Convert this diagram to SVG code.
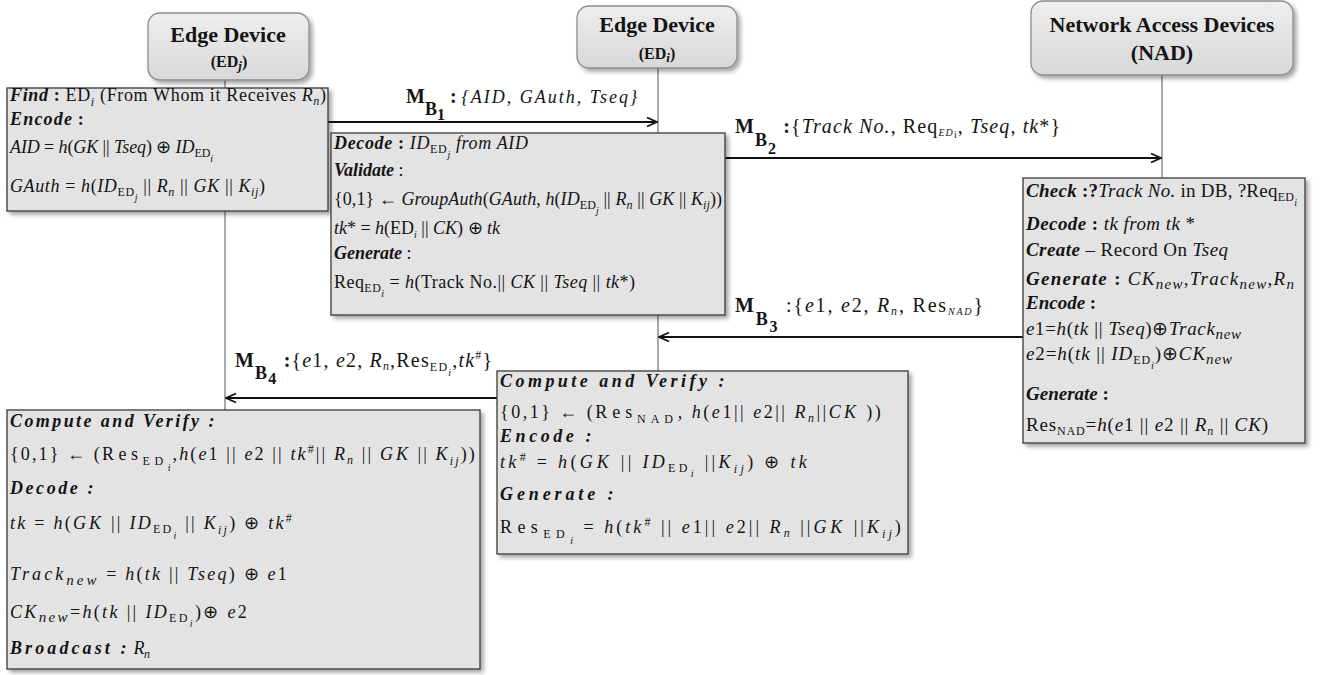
<svg xmlns="http://www.w3.org/2000/svg" width="1325" height="675" viewBox="0 0 1325 675" font-family="'Liberation Serif', 'Times New Roman', serif">
  <defs>
    <style>
      text{font-family:"Liberation Serif","Times New Roman",serif;fill:#141414}
      .hd{font-size:22px;font-weight:bold;text-anchor:middle}
      .hs{font-size:16px;font-weight:bold;text-anchor:middle}
      .bx{font-size:18px}
      .bc{font-size:19px}
      .k{font-weight:bold;font-style:italic}
      .i{font-style:italic}
      .b{font-weight:bold}
      .s{font-size:12px}
      .ss{font-size:10px}
      .sn{font-size:15px;font-style:italic}
      .sp{letter-spacing:3.6px}
      .w1{letter-spacing:1.2px}
      .w2{letter-spacing:2px}
      .lm{font-size:20px;font-weight:bold}
      .lb{font-size:18px;font-weight:bold}
      .ld{font-size:16px;font-weight:bold}
      .lt{font-size:18px}
      .lu{font-size:20px}
      .node{fill:#e3e3e3;stroke:#3a3a3a;stroke-width:1.3}
      .head{fill:url(#hg);stroke:#8c8c8c;stroke-width:1.3}
      .life{stroke:#555;stroke-width:1;fill:none}
      .msg{stroke:#111;stroke-width:2;fill:none}
    </style>
    <linearGradient id="hg" x1="0" y1="0" x2="0" y2="1">
      <stop offset="0" stop-color="#eeeeee"/>
      <stop offset="1" stop-color="#d8d8d8"/>
    </linearGradient>
    <filter id="sh" x="-5%" y="-5%" width="115%" height="125%">
      <feDropShadow dx="3" dy="3" stdDeviation="2" flood-color="#000" flood-opacity="0.35"/>
    </filter>
    <marker id="ah" viewBox="0 0 12 12" refX="11" refY="6" markerWidth="12" markerHeight="12" markerUnits="userSpaceOnUse" orient="auto">
      <path d="M1,1.5 L11,6 L1,10.5" fill="none" stroke="#111" stroke-width="1.8"/>
    </marker>
  </defs>

  <rect width="1325" height="675" fill="#ffffff"/>

  <!-- lifelines and messages -->
  <g id="connectors">
    <line class="life" x1="225" y1="80" x2="225" y2="88"/>
    <line class="life" x1="225" y1="211" x2="225" y2="410"/>
    <line class="life" x1="658" y1="68" x2="658" y2="133"/>
    <line class="life" x1="658" y1="315" x2="658" y2="371"/>
    <line class="life" x1="1162" y1="75" x2="1162" y2="178"/>

    <line class="msg" x1="328" y1="122" x2="657" y2="122" marker-end="url(#ah)"/>
    <line class="msg" x1="725" y1="158" x2="1161" y2="158" marker-end="url(#ah)"/>
    <line class="msg" x1="1023" y1="337" x2="659" y2="337" marker-end="url(#ah)"/>
    <line class="msg" x1="497" y1="398" x2="226" y2="398" marker-end="url(#ah)"/>

    <text x="406" y="103"><tspan class="lm">M</tspan><tspan class="lb" dy="12">B</tspan><tspan class="ld" dy="5">1</tspan><tspan class="lm" dy="-17"> : </tspan><tspan class="lt i w2">{AID, GAuth, Tseq}</tspan></text>
    <text x="735" y="133" textLength="325" lengthAdjust="spacing"><tspan class="lm">M</tspan><tspan class="lb" dy="13">B</tspan><tspan class="ld" dy="8">2</tspan><tspan class="lm" dy="-21"> :</tspan><tspan class="lu">{<tspan class="i">Track No.</tspan>, Req<tspan class="ss i" dy="3">ED</tspan><tspan class="ss" dy="2">i</tspan><tspan dy="-5">, </tspan><tspan class="i">Tseq</tspan>, <tspan class="i">tk</tspan>*}</tspan></text>
    <text x="735" y="312" textLength="248" lengthAdjust="spacing"><tspan class="lm">M</tspan><tspan class="lb" dy="13">B</tspan><tspan class="ld" dy="7">3</tspan><tspan class="lu" dy="-20"> :{<tspan class="i">e</tspan>1, <tspan class="i">e</tspan>2, <tspan class="i">R</tspan><tspan class="s i" dy="3">n</tspan><tspan dy="-3">, Res</tspan><tspan class="ss i" dy="3">NAD</tspan><tspan dy="-3">}</tspan></tspan></text>
    <text x="235" y="367" textLength="257" lengthAdjust="spacing"><tspan class="lm">M</tspan><tspan class="lb" dy="12">B</tspan><tspan class="ld" dy="5">4</tspan><tspan class="lm" dy="-17"> :</tspan><tspan class="lu">{<tspan class="i">e</tspan>1, <tspan class="i">e</tspan>2, <tspan class="i">R</tspan><tspan class="s i" dy="3">n</tspan><tspan dy="-3">,Res</tspan><tspan class="s" dy="4">ED</tspan><tspan class="ss i" dy="5">i</tspan><tspan dy="-9">,</tspan><tspan class="i">tk</tspan><tspan class="s" dy="-8">#</tspan><tspan dy="8">}</tspan></tspan></text>
  </g>

  <!-- participants -->
  <g id="edge-device-j">
    <rect class="head" x="148" y="13" width="161" height="67" rx="12" filter="url(#sh)"/>
    <text class="hd" x="228" y="42">Edge Device</text>
    <text class="hs" x="229" y="67">(ED<tspan class="i" font-size="13" dy="3">j</tspan><tspan dy="-3">)</tspan></text>
  </g>
  <g id="edge-device-i">
    <rect class="head" x="577" y="6" width="160" height="62" rx="12" filter="url(#sh)"/>
    <text class="hd" x="657" y="32">Edge Device</text>
    <text class="hs" x="657" y="59">(ED<tspan class="i" font-size="13" dy="3">i</tspan><tspan dy="-3">)</tspan></text>
  </g>
  <g id="nad">
    <rect class="head" x="1031" y="1" width="262" height="74" rx="12" filter="url(#sh)"/>
    <text class="hd" x="1162" y="32">Network Access Devices</text>
    <text class="hd" x="1162" y="60">(NAD)</text>
  </g>

  <!-- ED_j : find and encode -->
  <g id="box-edj-encode">
    <rect class="node" x="7" y="88" width="321" height="123" filter="url(#sh)"/>
    <text class="bx" x="10" y="101" textLength="316" lengthAdjust="spacing"><tspan class="k">Find</tspan><tspan class="b"> : </tspan>ED<tspan class="s i" dy="5">i</tspan><tspan dy="-5"> (From Whom it Receives </tspan><tspan class="i">R</tspan><tspan class="s i" dy="4">n</tspan><tspan dy="-4">)</tspan></text>
    <text class="bx" x="10" y="125"><tspan class="k w1">Encode</tspan><tspan class="b"> :</tspan></text>
    <text class="bx" x="10" y="153" textLength="203" lengthAdjust="spacing"><tspan class="i">AID</tspan> = <tspan class="i">h</tspan>(<tspan class="i">GK</tspan> || <tspan class="i">Tseq</tspan>) ⊕ <tspan class="i">ID</tspan><tspan class="s" dy="4">ED</tspan><tspan class="ss i" dy="5">i</tspan></text>
    <text class="bx" x="10" y="192" textLength="255" lengthAdjust="spacing"><tspan class="i">GAuth</tspan> = <tspan class="i">h</tspan>(<tspan class="i">ID</tspan><tspan class="s" dy="4">ED</tspan><tspan class="ss i" dy="5">j</tspan><tspan dy="-9"> || </tspan><tspan class="i">R</tspan><tspan class="s i" dy="4">n</tspan><tspan dy="-4"> || </tspan><tspan class="i">GK</tspan> || <tspan class="i">K</tspan><tspan class="s i" dy="4">ij</tspan><tspan dy="-4">)</tspan></text>
  </g>

  <!-- ED_i : decode, validate, generate -->
  <g id="box-edi-validate">
    <rect class="node" x="331" y="133" width="394" height="182" filter="url(#sh)"/>
    <text class="bx" x="334" y="149" textLength="194" lengthAdjust="spacing"><tspan class="k">Decode</tspan><tspan class="b"> : </tspan><tspan class="i">ID</tspan><tspan class="s" dy="4">ED</tspan><tspan class="ss i" dy="5">j</tspan><tspan class="i" dy="-9"> from AID</tspan></text>
    <text class="bx" x="334" y="176"><tspan class="k">Validate</tspan> :</text>
    <text class="bx" x="334" y="205" textLength="388" lengthAdjust="spacing">{0,1} ← <tspan class="i">GroupAuth</tspan>(<tspan class="i">GAuth</tspan>, <tspan class="i">h</tspan>(<tspan class="i">ID</tspan><tspan class="s" dy="4">ED</tspan><tspan class="ss i" dy="5">j</tspan><tspan dy="-9"> || </tspan><tspan class="i">R</tspan><tspan class="s i" dy="4">n</tspan><tspan dy="-4"> || </tspan><tspan class="i">GK</tspan> || <tspan class="i">K</tspan><tspan class="s i" dy="4">ij</tspan><tspan dy="-4">))</tspan></text>
    <text class="bx" x="334" y="234" textLength="166" lengthAdjust="spacing"><tspan class="i">tk</tspan>* = <tspan class="i">h</tspan>(ED<tspan class="ss i" dy="4">i</tspan><tspan dy="-4"> || </tspan><tspan class="i">CK</tspan>) ⊕ <tspan class="i">tk</tspan></text>
    <text class="bx" x="334" y="259"><tspan class="k">Generate</tspan> :</text>
    <text class="bx" x="334" y="288" textLength="301" lengthAdjust="spacing">Req<tspan class="s" dy="4">ED</tspan><tspan class="ss i" dy="5">i</tspan><tspan dy="-9"> = </tspan><tspan class="i">h</tspan>(Track No.|| <tspan class="i">CK</tspan> ||  <tspan class="i">Tseq</tspan> || <tspan class="i">tk</tspan>*)</text>
  </g>

  <!-- NAD : check, decode, create, generate, encode -->
  <g id="box-nad-check">
    <rect class="node" x="1023" y="178" width="282" height="265" filter="url(#sh)"/>
    <text class="bc" x="1026" y="197" textLength="271" lengthAdjust="spacing"><tspan class="k">Check</tspan><tspan class="b"> :?</tspan><tspan class="i">Track No.</tspan> in DB, ?Req<tspan class="s" dy="4">ED</tspan><tspan class="ss i" dy="5">i</tspan></text>
    <text class="bc" x="1026" y="230" textLength="169" lengthAdjust="spacing"><tspan class="k">Decode</tspan><tspan class="b"> : </tspan><tspan class="i">tk from tk</tspan> *</text>
    <text class="bc" x="1026" y="256" textLength="202" lengthAdjust="spacing"><tspan class="k">Create</tspan> – Record On <tspan class="i">Tseq</tspan></text>
    <text class="bc" x="1026" y="285" textLength="268" lengthAdjust="spacing"><tspan class="k">Generate</tspan><tspan class="b"> : </tspan><tspan class="i">CK</tspan><tspan class="sn" dy="4">new</tspan><tspan dy="-4">,</tspan><tspan class="i">Track</tspan><tspan class="sn" dy="4">new</tspan><tspan dy="-4">,</tspan><tspan class="i">R</tspan><tspan class="sn" dy="4">n</tspan></text>
    <text class="bc" x="1026" y="309"><tspan class="k">Encode</tspan><tspan class="b"> :</tspan></text>
    <text class="bc" x="1026" y="335" textLength="215" lengthAdjust="spacing"><tspan class="i">e</tspan>1=<tspan class="i">h</tspan>(<tspan class="i">tk</tspan> || <tspan class="i">Tseq</tspan>)⊕<tspan class="i">Track</tspan><tspan class="sn" dy="4">new</tspan></text>
    <text class="bc" x="1026" y="360" textLength="206" lengthAdjust="spacing"><tspan class="i">e</tspan>2=<tspan class="i">h</tspan>(<tspan class="i">tk</tspan> || <tspan class="i">ID</tspan><tspan class="s" dy="4">ED</tspan><tspan class="ss i" dy="5">i</tspan><tspan dy="-9">)⊕</tspan><tspan class="i">CK</tspan><tspan class="sn" dy="4">new</tspan></text>
    <text class="bc" x="1026" y="400"><tspan class="k">Generate</tspan><tspan class="b"> :</tspan></text>
    <text class="bc" x="1026" y="431" textLength="242" lengthAdjust="spacing">Res<tspan class="s" dy="4">NAD</tspan><tspan dy="-4">=</tspan><tspan class="i">h</tspan>(<tspan class="i">e</tspan>1 || <tspan class="i">e</tspan>2 || <tspan class="i">R</tspan><tspan class="s i" dy="4">n</tspan><tspan dy="-4"> || </tspan><tspan class="i">CK</tspan>)</text>
  </g>

  <!-- ED_i : compute, verify and re-encode -->
  <g id="box-edi-verify">
    <rect class="node" x="497" y="371" width="411" height="183" filter="url(#sh)"/>
    <text class="bx" x="500" y="387" textLength="228" lengthAdjust="spacing"><tspan class="k sp">Compute and Verify :</tspan></text>
    <text class="bx w1" x="500" y="418" textLength="382" lengthAdjust="spacing">{0,1} ← (<tspan class="sp">Res</tspan><tspan class="s sp" dy="5">NAD</tspan><tspan dy="-5">, </tspan><tspan class="i">h</tspan>(<tspan class="i">e</tspan>1|| <tspan class="i">e</tspan>2|| <tspan class="i">R</tspan><tspan class="s i" dy="4">n</tspan><tspan dy="-4">||</tspan><tspan class="i w2">CK</tspan> ))</text>
    <text class="bx" x="500" y="442" textLength="95" lengthAdjust="spacing"><tspan class="k sp">Encode :</tspan></text>
    <text class="bx w1" x="500" y="468" textLength="308" lengthAdjust="spacing"><tspan class="i">tk</tspan><tspan class="s" dy="-7">#</tspan><tspan dy="7"> = </tspan><tspan class="i">h</tspan>(<tspan class="i w2">GK</tspan>  ||  <tspan class="i">ID</tspan><tspan class="s" dy="4">ED</tspan><tspan class="ss i" dy="5">i</tspan><tspan dy="-9"> ||</tspan><tspan class="i">K</tspan><tspan class="s i" dy="5">ij</tspan><tspan dy="-5">) ⊕ </tspan><tspan class="i">tk</tspan></text>
    <text class="bx" x="500" y="500" textLength="117" lengthAdjust="spacing"><tspan class="k sp">Generate :</tspan></text>
    <text class="bx w1" x="500" y="533" textLength="402" lengthAdjust="spacing"><tspan class="sp">Res</tspan><tspan class="s sp" dy="5">ED</tspan><tspan class="ss i" dy="6">i</tspan><tspan dy="-11"> = </tspan><tspan class="i">h</tspan>(<tspan class="i">tk</tspan><tspan class="s" dy="-7">#</tspan><tspan dy="7"> ||  </tspan><tspan class="i">e</tspan>1||  <tspan class="i">e</tspan>2||  <tspan class="i">R</tspan><tspan class="s i" dy="4">n</tspan><tspan dy="-4"> ||</tspan><tspan class="i w2">GK</tspan> ||<tspan class="i">K</tspan><tspan class="s i" dy="5">ij</tspan><tspan dy="-5">)</tspan></text>
  </g>

  <!-- ED_j : compute, verify, decode and broadcast -->
  <g id="box-edj-verify">
    <rect class="node" x="7" y="410" width="473" height="259" filter="url(#sh)"/>
    <text class="bx" x="10" y="427" textLength="208" lengthAdjust="spacing"><tspan class="k sp">Compute and Verify :</tspan></text>
    <text class="bx w1" x="10" y="460" textLength="466" lengthAdjust="spacing">{0,1} ← (<tspan class="sp">Res</tspan><tspan class="s sp" dy="5">ED</tspan><tspan class="ss i" dy="6">i</tspan><tspan dy="-11">,</tspan><tspan class="i">h</tspan>(<tspan class="i">e</tspan>1 || <tspan class="i">e</tspan>2 ||  <tspan class="i">tk</tspan><tspan class="s" dy="-7">#</tspan><tspan dy="7">|| </tspan><tspan class="i">R</tspan><tspan class="s i" dy="4">n</tspan><tspan dy="-4"> || </tspan><tspan class="i w2">GK</tspan> || <tspan class="i">K</tspan><tspan class="s i" dy="5">ij</tspan><tspan dy="-5">))</tspan></text>
    <text class="bx" x="10" y="494" textLength="87" lengthAdjust="spacing"><tspan class="k sp">Decode :</tspan></text>
    <text class="bx w1" x="10" y="529" textLength="283" lengthAdjust="spacing"><tspan class="i">tk</tspan> = <tspan class="i">h</tspan>(<tspan class="i w2">GK</tspan> || <tspan class="i">ID</tspan><tspan class="s" dy="4">ED</tspan><tspan class="ss i" dy="6">i</tspan><tspan dy="-10"> || </tspan><tspan class="i">K</tspan><tspan class="s i" dy="5">ij</tspan><tspan dy="-5">) ⊕ </tspan><tspan class="i">tk</tspan><tspan class="s" dy="-7">#</tspan></text>
    <text class="bx w1" x="10" y="580" textLength="278" lengthAdjust="spacing"><tspan class="i w2">Track</tspan><tspan class="sn w2" dy="5">new</tspan><tspan dy="-5"> = </tspan><tspan class="i">h</tspan>(<tspan class="i">tk</tspan> || <tspan class="i">Tseq</tspan>) ⊕ <tspan class="i">e</tspan>1</text>
    <text class="bx w1" x="10" y="618" textLength="238" lengthAdjust="spacing"><tspan class="i">CK</tspan><tspan class="sn" dy="4">new</tspan><tspan dy="-4">=</tspan><tspan class="i">h</tspan>(<tspan class="i">tk</tspan> || <tspan class="i">ID</tspan><tspan class="s" dy="4">ED</tspan><tspan class="ss i" dy="5">i</tspan><tspan dy="-9">)⊕ </tspan><tspan class="i">e</tspan>2</text>
    <text class="bx" x="10" y="654" textLength="140" lengthAdjust="spacing"><tspan class="k sp">Broadcast :</tspan> <tspan class="i">R</tspan><tspan class="s i" dy="4">n</tspan></text>
  </g>
</svg>
